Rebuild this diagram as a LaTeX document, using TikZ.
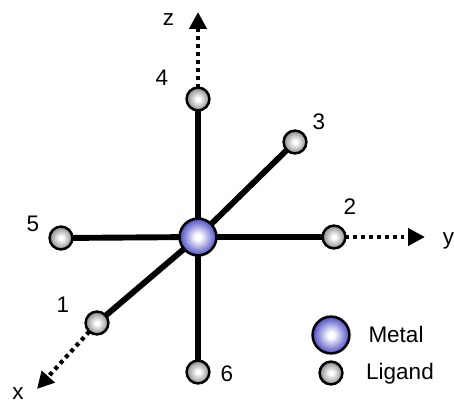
\documentclass[tikz,border=0pt]{standalone}
\usepackage{fontspec}
\setmainfont{Liberation Sans}
\usetikzlibrary{arrows.meta}
\definecolor{metalC}{HTML}{3C3CC0}
\definecolor{ligandC}{HTML}{808080}
\pgfdeclareradialshading{metalS}{\pgfpoint{0bp}{0bp}}{color(0bp)=(white); color(4bp)=(white); color(27bp)=(metalC); color(50bp)=(metalC)}
\pgfdeclareradialshading{ligandS}{\pgfpoint{0bp}{0bp}}{color(0bp)=(white); color(4bp)=(white); color(27bp)=(ligandC); color(50bp)=(ligandC)}
\tikzset{
  metalN/.style={circle,draw=black,line width=1.8pt,inner sep=0pt,outer sep=0pt,minimum size=0.92cm,shading=metalS},
  ligandN/.style={circle,draw=black,line width=1.8pt,inner sep=0pt,outer sep=0pt,minimum size=0.57cm,shading=ligandS},
  bond/.style={line width=4.2pt},
  axisL/.style={line width=3pt,dash pattern=on 2.8pt off 2.8pt,
    -{Triangle[length=12pt,width=12pt]}},
  lab/.style={font=\fontsize{16}{19}\selectfont,inner sep=0pt}
}

\begin{document}
\begin{tikzpicture}[scale=1.0]
  \useasboundingbox (-4.95,-4.15) rectangle (6.4,5.925);

  % centre and ligands
  \node[metalN] (metal) at (0,0) {};
  \node[ligandN] (lig1) at (-2.525,-2.15) {};
  \node[ligandN] (lig2) at (3.4,0) {};
  \node[ligandN] (lig3) at (2.425,2.375) {};
  \node[ligandN] (lig4) at (0,3.45) {};
  \node[ligandN] (lig5) at (-3.425,-0.025) {};
  \node[ligandN] (lig6) at (0,-3.375) {};

  % bonds
  \foreach \i in {1,...,6}
    \draw[bond] (metal) -- (lig\i);

  % axes
  \coordinate (xtip) at (-4.025,-3.8);
  \coordinate (ytip) at (5.675,0);
  \coordinate (ztip) at (0,5.625);
  \draw[axisL] (lig1) -- (xtip);
  \draw[axisL] (lig2) -- (ytip);
  \draw[axisL] (lig4) -- (ztip);

  % labels
  \node[lab] (xlab) at (-4.5,-3.925) {x};
  \node[lab] (ylab) at (6.26,-0.1) {y};
  \node[lab] (zlab) at (-0.74,5.44) {z};
  \node[lab] (num1) at (-3.375,-1.7) {1};
  \node[lab] (num2) at (3.8,0.76) {2};
  \node[lab] (num3) at (3.025,2.875) {3};
  \node[lab] (num4) at (-0.9,3.99) {4};
  \node[lab] (num5) at (-4.125,0.325) {5};
  \node[lab] (num6) at (0.725,-3.425) {6};

  % legend
  \node[metalN] (keyM) at (3.325,-2.45) {};
  \node[ligandN] (keyL) at (3.325,-3.4) {};
  \node[lab,anchor=base] (keyMt) at (4.95,-2.64) {Metal};
  \node[lab,anchor=base] (keyLt) at (5.05,-3.55) {Ligand};
\end{tikzpicture}
\end{document}
